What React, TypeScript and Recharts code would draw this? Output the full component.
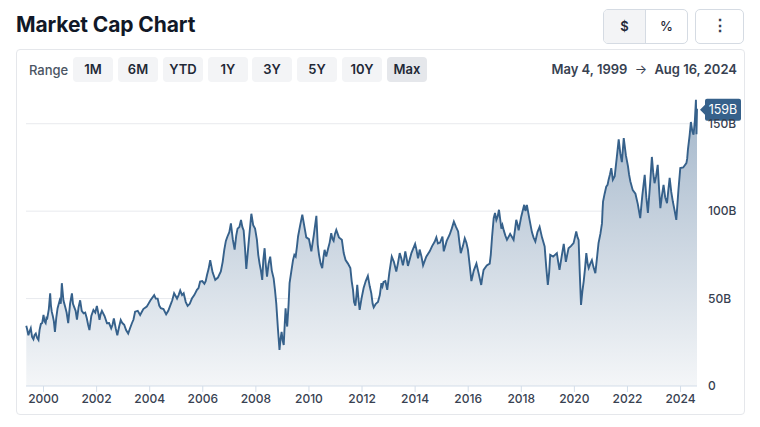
import React from "react";
import { AreaChart, Area, XAxis, YAxis, CartesianGrid, ReferenceDot } from "recharts";

const title = "Market Cap Chart";
const ranges = ["1M", "6M", "YTD", "1Y", "3Y", "5Y", "10Y", "Max"];
const rangeLefts = [73, 118, 163, 208, 252, 297, 342, 387];
const xTicks = [2000, 2002, 2004, 2006, 2008, 2010, 2012, 2014, 2016, 2018, 2020, 2022, 2024];
const yTicks = [0, 50, 100, 150];
const gridValues = [50, 100, 150];

const turnYears = [
  1999.35, 1999.43, 1999.52, 1999.62, 1999.71, 1999.81, 1999.9, 2000, 2000.08, 2000.14, 2000.25, 2000.31, 2000.35, 2000.43, 2000.53, 2000.69, 2000.82, 2000.93, 2001.07, 2001.16, 2001.26, 2001.38, 2001.51, 2001.63, 2001.73, 2001.88, 2002.01, 2002.11, 2002.2, 2002.39, 2002.55, 2002.65, 2002.78, 2002.91, 2003.04, 2003.19, 2003.33, 2003.45, 2003.64, 2003.89, 2004.17, 2004.3, 2004.42, 2004.62, 2004.77, 2004.92, 2005.03, 2005.15, 2005.28, 2005.43, 2005.59, 2005.78, 2005.9, 2006.06, 2006.16, 2006.28, 2006.47, 2006.68, 2006.81, 2006.93, 2007.06, 2007.2, 2007.31, 2007.44, 2007.54, 2007.64, 2007.83, 2008.04,
  2008.14, 2008.24, 2008.33, 2008.42, 2008.54, 2008.67, 2008.77, 2008.89, 2008.97, 2009.05, 2009.12, 2009.18, 2009.27, 2009.4, 2009.5, 2009.59, 2009.75, 2009.9, 2010.09, 2010.28, 2010.38, 2010.5, 2010.59, 2010.72, 2010.84, 2010.93, 2011.03, 2011.24, 2011.38, 2011.56, 2011.66, 2011.75, 2011.82, 2011.91, 2012.06, 2012.22, 2012.35, 2012.44, 2012.6, 2012.73, 2012.81, 2012.95, 2013.12, 2013.29, 2013.42, 2013.54, 2013.63, 2013.73, 2014, 2014.11, 2014.17, 2014.3, 2014.55, 2014.74, 2014.86, 2015.03, 2015.08, 2015.3, 2015.46, 2015.62, 2015.72, 2015.87, 2015.99, 2016.12, 2016.31, 2016.49, 2016.58, 2016.81, 2016.9, 2016.96, 2017.06, 2017.16,
  2017.25, 2017.34, 2017.46, 2017.71, 2017.81, 2017.9, 2018.11, 2018.21, 2018.4, 2018.53, 2018.69, 2018.88, 2019, 2019.09, 2019.34, 2019.44, 2019.6, 2019.68, 2019.78, 2019.97, 2020.07, 2020.16, 2020.25, 2020.35, 2020.45, 2020.54, 2020.66, 2020.79, 2020.91, 2021.04, 2021.08, 2021.2, 2021.29, 2021.39, 2021.52, 2021.67, 2021.79, 2021.86, 2022.02, 2022.11, 2022.3, 2022.48, 2022.65, 2022.77, 2022.92, 2023.02, 2023.14, 2023.24, 2023.36, 2023.49, 2023.59, 2023.71, 2023.84, 2023.99, 2024.22, 2024.28, 2024.39, 2024.49, 2024.58, 2024.6, 2024.62,
];
const turnCaps = [
  34.4, 29, 33, 26.7, 30, 26.3, 35.5, 40.6, 36, 38.7, 53, 42.5, 40, 31, 44.5, 58.8, 45, 36, 53, 45, 38, 49, 41.6, 38.7, 32, 43.5, 45.8, 37.8, 43, 35.9, 33, 38.7, 29, 37.8, 35, 30, 35.9, 42.5, 40.6, 45.4, 52, 50, 44.5, 41, 45.8, 53, 50, 54.6, 53, 45.8, 50, 55, 59.7, 58.5, 63.5, 72, 60.7, 65.5, 77.9, 85.5, 93, 78, 90, 95, 89, 67, 98.5, 83.6,
  70, 60.7, 78.8, 62.6, 74, 61.6, 47, 20.6, 31, 23.5, 44.5, 34, 58.8, 72, 74, 85.5, 98, 85, 77, 97.3, 75, 67.4, 77.9, 78.5, 87.4, 83, 89.3, 83.6, 72, 67.4, 55, 46, 57.8, 43.5, 56, 63, 53, 45, 48, 58.8, 59.5, 55, 74, 65.5, 76, 69, 77, 68.7, 81.3, 73, 78, 69, 77, 82.6, 81.5, 85.5, 77, 86.5, 94, 88.4, 76, 84.5, 78, 60, 70, 57.8, 66.4, 70, 85.5, 96, 95, 100.8,
  90, 89, 83.6, 83.6, 95, 89, 103.6, 103.6, 88, 82.6, 91, 79.8, 57.8, 75, 76, 66.4, 81.3, 71, 78.8, 81.7, 88.4, 83.5, 46.4, 59.7, 76, 67.5, 72, 64.5, 81.7, 93, 105.5, 114, 118, 124.6, 120, 141, 128, 141.8, 125.6, 117, 110, 96, 120.8, 99, 131, 116, 126.5, 101.7, 115, 104.6, 119, 105.5, 95, 124.6, 127.5, 135.5, 151, 143.7, 163.7, 144, 158.6,
];
const midYears = [
  1999.39, 1999.47, 1999.57, 1999.66, 1999.76, 1999.85, 1999.95, 2000.04, 2000.11, 2000.2, 2000.28, 2000.39, 2000.48, 2000.61, 2000.65, 2000.75, 2000.87, 2001, 2001.11, 2001.21, 2001.32, 2001.44, 2001.57, 2001.68, 2001.8, 2001.95, 2002.06, 2002.15, 2002.3, 2002.47, 2002.6, 2002.72, 2002.85, 2002.97, 2003.11, 2003.26, 2003.39, 2003.55, 2003.76, 2004.03, 2004.23, 2004.36, 2004.52, 2004.7, 2004.85, 2005.09, 2005.22, 2005.36, 2005.51, 2005.68, 2005.84, 2005.98, 2006.11, 2006.22, 2006.37, 2006.57, 2006.75, 2006.87, 2007, 2007.13, 2007.26, 2007.38, 2007.49, 2007.59, 2007.74, 2007.9, 2007.97,
  2008.09, 2008.19, 2008.28, 2008.37, 2008.48, 2008.6, 2008.72, 2008.83, 2008.93, 2009.01, 2009.09, 2009.15, 2009.23, 2009.34, 2009.45, 2009.55, 2009.67, 2009.83, 2010, 2010.18, 2010.33, 2010.44, 2010.55, 2010.65, 2010.78, 2010.89, 2010.98, 2011.13, 2011.31, 2011.47, 2011.61, 2011.7, 2011.79, 2011.87, 2011.98, 2012.14, 2012.29, 2012.4, 2012.52, 2012.67, 2012.77, 2012.88, 2013.03, 2013.2, 2013.35, 2013.48, 2013.58, 2013.68, 2013.86, 2014.05, 2014.14, 2014.24, 2014.42, 2014.64, 2014.8, 2014.94, 2015.19, 2015.38, 2015.54, 2015.67, 2015.8, 2015.93, 2016.05, 2016.21, 2016.4, 2016.53, 2016.7, 2016.85, 2017.01, 2017.11,
  2017.29, 2017.4, 2017.58, 2017.76, 2017.85, 2018, 2018.16, 2018.3, 2018.46, 2018.61, 2018.78, 2018.94, 2019.05, 2019.2, 2019.39, 2019.52, 2019.64, 2019.73, 2019.87, 2020.02, 2020.12, 2020.2, 2020.3, 2020.4, 2020.5, 2020.6, 2020.72, 2020.85, 2020.98, 2021.06, 2021.14, 2021.25, 2021.34, 2021.45, 2021.6, 2021.73, 2021.82, 2021.94, 2022.06, 2022.2, 2022.39, 2022.56, 2022.71, 2022.85, 2022.97, 2023.08, 2023.19, 2023.3, 2023.42, 2023.54, 2023.65, 2023.78, 2023.92, 2024.1, 2024.25, 2024.34, 2024.44, 2024.54,
];
const midCaps = [
  32, 31, 28, 29, 27.5, 32, 36, 37, 39, 44, 46, 37, 39, 49, 47, 49, 42, 47, 47, 43, 45, 43, 42, 35, 40, 42, 42, 41, 40, 36, 35, 33, 34, 36, 32, 33, 38, 43, 44, 49, 50, 46, 44, 43, 49, 52, 52, 48, 47, 52, 56, 60, 60, 67, 65, 62, 71, 83, 88, 84, 86, 91, 91, 79, 84, 92, 90,
  75, 66, 72, 70, 70, 66, 55, 33, 27, 26, 36, 38, 46, 66, 75, 80, 92, 91, 84, 86, 81, 70, 74, 74, 82, 84, 87, 85, 76, 70, 60, 48, 52, 49, 50, 60, 57, 47, 47, 52, 57, 60, 65, 71, 70, 73, 72, 73, 76, 78, 75, 74, 74, 80, 85, 82, 83, 90, 91, 82, 80, 82, 70, 66, 64, 62, 69, 75, 99, 97,
  92, 86, 87, 89, 93, 97, 100, 96, 85, 88, 85, 68, 65, 74, 71, 74, 76, 75, 80, 85, 85, 66, 54, 67, 70, 70, 68, 73, 87, 100, 110, 115, 121, 118, 131, 133, 134, 132, 121, 112, 104, 109, 108, 115, 122, 120, 113, 109, 108, 112, 111, 100, 112, 125, 130, 143, 146, 152,
];
const data = [
  ...turnYears.map((year, i) => ({ year, cap: turnCaps[i] })),
  ...midYears.map((year, i) => ({ year, cap: midCaps[i] })),
].sort((a, b) => a.year - b.year);
const lastYear = turnYears[turnYears.length - 1];
const lastCap = turnCaps[turnCaps.length - 1];

const ink = "#111827";
const lineBlue = "#36618b";
const font = "Inter, 'Noto Sans', sans-serif";

const Tag = (props: any) => {
  const { cx, cy } = props;
  return (
    <g>
      <path d={`M${cx + 3} ${cy + 1} L${cx + 8} ${cy - 4} L${cx + 8} ${cy - 8} Q${cx + 8} ${cy - 10} ${cx + 10} ${cy - 10} L${cx + 42} ${cy - 10} Q${cx + 44} ${cy - 10} ${cx + 44} ${cy - 8} L${cx + 44} ${cy + 10} Q${cx + 44} ${cy + 12} ${cx + 42} ${cy + 12} L${cx + 10} ${cy + 12} Q${cx + 8} ${cy + 12} ${cx + 8} ${cy + 10} L${cx + 8} ${cy + 6} Z`} fill={lineBlue} />
      <text x={cx + 26} y={cy + 5} textAnchor="middle" fill="#fff" fontSize={12.5} fontFamily={font}>159B</text>
    </g>
  );
};

const box = (left: number, top: number, width: number, height: number): React.CSSProperties => ({
  position: "absolute", left, top, width, height, boxSizing: "border-box",
});

export default function App() {
  return (
    <div style={{ ...box(0, 0, 760, 427), background: "#fff", fontFamily: font, overflow: "hidden" }}>
      <style>{"body{margin:0}"}</style>
      <div style={{ position: "absolute", left: 16, top: 11, fontSize: 21, fontWeight: 700, lineHeight: "28px", color: ink, letterSpacing: -0.1 }}>{title}</div>

      <div style={{ ...box(603, 9, 85, 35), border: "1px solid #d5dbe3", borderRadius: 5, display: "flex", overflow: "hidden" }}>
        <div style={{ width: 41, background: "#f3f4f6", borderRight: "1px solid #d5dbe3", fontSize: 13, fontWeight: 600, color: "#1f2937", textAlign: "center", lineHeight: "33px" }}>$</div>
        <div style={{ flex: 1, fontSize: 13, fontWeight: 500, color: "#1f2937", textAlign: "center", lineHeight: "33px" }}>%</div>
      </div>
      <div style={{ ...box(695, 9, 49, 35), border: "1px solid #d5dbe3", borderRadius: 5, fontSize: 16, fontWeight: 700, color: "#374151", textAlign: "center", lineHeight: "31px" }}>⋮</div>

      <div style={{ ...box(16, 49, 729, 366), border: "1px solid #e5e7eb", borderRadius: 4 }} />
      <div style={{ position: "absolute", left: 29, top: 61, fontSize: 13, fontWeight: 500, color: "#4b5563", lineHeight: "18px" }}>Range</div>
      {ranges.map((r, i) => (
        <div key={r} style={{ ...box(rangeLefts[i], 57, 40, 25), background: r === "Max" ? "#e5e7eb" : "#f3f4f6", borderRadius: 4, fontSize: 13, fontWeight: 600, color: "#1f2937", textAlign: "center", lineHeight: "25px" }}>{r}</div>
      ))}
      <div style={{ position: "absolute", right: 23, top: 60, fontSize: 13, fontWeight: 600, color: "#374151", lineHeight: "18px", whiteSpace: "nowrap" }}>May 4, 1999 <span style={{ margin: "0 4px", fontWeight: 400 }}>→</span> Aug 16, 2024</div>

      <div style={{ position: "absolute", left: 0, top: 0 }}>
        <AreaChart width={760} height={427} data={data} margin={{ left: 26, right: 0, top: 94, bottom: 0 }}>
          <defs>
            <linearGradient id="capFill" x1="0" y1="0" x2="0" y2="1">
              <stop offset="0%" stopColor="#a3b6ca" />
              <stop offset="100%" stopColor="#f4f6f8" />
            </linearGradient>
          </defs>
          <CartesianGrid vertical={false} stroke="#e8eaee" horizontalValues={gridValues} />
          <XAxis dataKey="year" type="number" domain={[1999.34, 2024.62]} ticks={xTicks} interval={0} tickSize={6} height={41}
            stroke="#d3dde9" tick={{ fill: "#374151", fontSize: 12, fontWeight: 500, fontFamily: font }} tickFormatter={(v: number) => String(v)} />
          <YAxis orientation="right" type="number" domain={[0, 167]} ticks={yTicks} width={63} axisLine={false} tickLine={false}
            tick={{ fill: "#374151", fontSize: 12, fontWeight: 500, fontFamily: font, textAnchor: "start" }} tickMargin={5}
            tickFormatter={(v: number) => (v === 0 ? "0" : `${v}B`)} />
          <Area type="linear" dataKey="cap" stroke={lineBlue} strokeWidth={1.9} fill="url(#capFill)" fillOpacity={1} isAnimationActive={false} dot={false} activeDot={false} />
          <ReferenceDot x={lastYear} y={lastCap} r={0} shape={Tag} ifOverflow="visible" />
        </AreaChart>
      </div>
    </div>
  );
}
